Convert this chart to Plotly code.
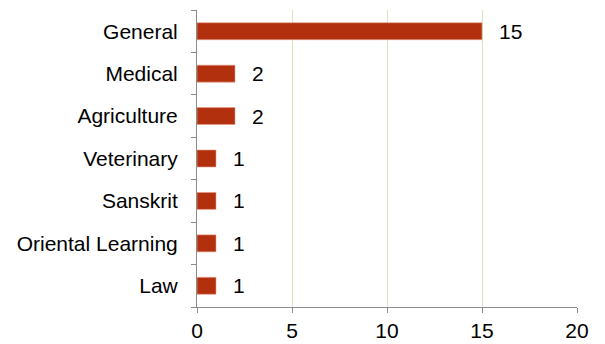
import plotly.graph_objects as go

categories = ["General", "Medical", "Agriculture", "Veterinary", "Sanskrit", "Oriental Learning", "Law"]
values = [15, 2, 2, 1, 1, 1, 1]
x_ticks = [0, 5, 10, 15, 20]

cats_rev = categories[::-1]
vals_rev = values[::-1]

fig = go.Figure()
fig.add_trace(go.Bar(
    y=cats_rev, x=vals_rev, orientation="h",
    marker=dict(color="#B3300F", line=dict(color="#E8A08C", width=0.6)),
    width=0.4,
))
for c, v in zip(cats_rev, vals_rev):
    fig.add_annotation(x=v, y=c, text=str(v), showarrow=False, xanchor="left",
                       xshift=15, font=dict(size=21, color="black"))

# page body has an 8px margin: compensate so the plot lands where the reference has it
fig.update_layout(
    width=597, height=336,
    margin=dict(l=189, r=28, t=2, b=34),
    paper_bgcolor="white", plot_bgcolor="white",
    font=dict(family="Liberation Sans, Arial", size=21, color="black"),
    showlegend=False,
    xaxis=dict(range=[0, 20], tickvals=x_ticks, showgrid=True, gridcolor="#D7E4BD",
               gridwidth=1, showline=True, linecolor="#8C8C8C", linewidth=1,
               ticks="outside", ticklen=5, tickcolor="#8C8C8C", zeroline=False,
               tickfont=dict(size=21)),
    yaxis=dict(type="category", tickson="boundaries", showgrid=False, showline=True,
               linecolor="#8C8C8C", linewidth=1, ticks="outside", ticklen=5,
               tickcolor="#8C8C8C", tickfont=dict(size=21), ticklabelstandoff=14,
               range=[-0.5, 6.5]),
)
fig.write_html("out.html")
